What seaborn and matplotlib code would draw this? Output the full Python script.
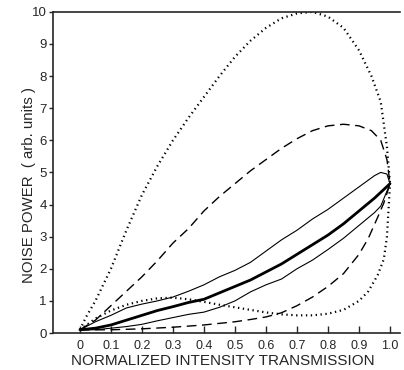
import numpy as np
import pandas as pd
import seaborn as sns
import matplotlib.pyplot as plt

# data
x_dot_up = [0, 0.02, 0.05, 0.1, 0.15, 0.2, 0.25, 0.3, 0.35, 0.4, 0.45, 0.5, 0.55, 0.6,
            0.65, 0.7, 0.75, 0.8, 0.85, 0.9, 0.94, 0.97, 0.99, 1.0]
y_dot_up = [0.1, 0.5, 1.0, 2.0, 3.2, 4.3, 5.2, 6.0, 6.7, 7.35, 8.0, 8.6, 9.1, 9.5,
            9.8, 9.95, 10.0, 9.85, 9.5, 8.8, 8.0, 7.2, 5.8, 4.65]

x_dot_lo = [0, 0.05, 0.1, 0.15, 0.2, 0.25, 0.3, 0.35, 0.4, 0.45, 0.5, 0.55, 0.6, 0.65,
            0.7, 0.75, 0.8, 0.85, 0.9, 0.93, 0.96, 0.98, 0.99, 1.0]
y_dot_lo = [0.1, 0.45, 0.7, 0.88, 1.0, 1.08, 1.1, 1.05, 0.97, 0.88, 0.8, 0.72, 0.64, 0.58,
            0.55, 0.55, 0.6, 0.72, 1.0, 1.3, 1.8, 2.3, 3.0, 4.65]

x_dash_up = [0, 0.05, 0.1, 0.15, 0.2, 0.25, 0.3, 0.35, 0.4, 0.45, 0.5, 0.55, 0.6, 0.65,
             0.7, 0.75, 0.8, 0.85, 0.9, 0.94, 0.97, 0.99, 1.0]
y_dash_up = [0.1, 0.4, 0.85, 1.3, 1.75, 2.25, 2.8, 3.25, 3.8, 4.25, 4.65, 5.05, 5.4, 5.75,
             6.05, 6.3, 6.45, 6.5, 6.45, 6.3, 6.0, 5.4, 4.65]

x_dash_lo = [0, 0.1, 0.2, 0.3, 0.4, 0.45, 0.5, 0.55, 0.6, 0.65, 0.7, 0.75, 0.8, 0.85,
             0.9, 0.93, 0.96, 0.98, 1.0]
y_dash_lo = [0.1, 0.1, 0.13, 0.18, 0.25, 0.3, 0.35, 0.42, 0.5, 0.63, 0.85, 1.12, 1.45, 1.85,
             2.45, 2.95, 3.6, 4.05, 4.65]

x_thin_up = [0, 0.05, 0.1, 0.15, 0.2, 0.25, 0.3, 0.35, 0.4, 0.45, 0.5, 0.55, 0.6, 0.65,
             0.7, 0.75, 0.8, 0.85, 0.9, 0.95, 0.97, 0.99, 1.0]
y_thin_up = [0.1, 0.35, 0.55, 0.78, 0.9, 1.0, 1.12, 1.3, 1.5, 1.75, 1.95, 2.2, 2.55, 2.9,
             3.2, 3.55, 3.85, 4.2, 4.55, 4.9, 5.0, 4.95, 4.65]

x_thick = [0, 0.05, 0.1, 0.15, 0.2, 0.25, 0.3, 0.35, 0.4, 0.45, 0.5, 0.55, 0.6, 0.65,
           0.7, 0.75, 0.8, 0.85, 0.9, 0.95, 1.0]
y_thick = [0.1, 0.15, 0.25, 0.4, 0.55, 0.7, 0.82, 0.95, 1.05, 1.25, 1.45, 1.65, 1.9, 2.15,
           2.45, 2.75, 3.05, 3.4, 3.8, 4.2, 4.65]

x_thin_lo = [0, 0.05, 0.1, 0.15, 0.2, 0.25, 0.3, 0.35, 0.4, 0.45, 0.5, 0.55, 0.6, 0.65,
             0.7, 0.75, 0.8, 0.85, 0.9, 0.95, 0.97, 1.0]
y_thin_lo = [0.1, 0.1, 0.15, 0.2, 0.27, 0.38, 0.48, 0.58, 0.65, 0.8, 1.0, 1.28, 1.5, 1.68,
             2.0, 2.27, 2.6, 2.95, 3.35, 3.75, 3.95, 4.65]

x_ticks = [0, 0.1, 0.2, 0.3, 0.4, 0.5, 0.6, 0.7, 0.8, 0.9, 1.0]
x_ticklabels = ['0', '0.1', '0.2', '0.3', '0.4', '0.5', '0.6', '0.7', '0.8', '0.9', '1.0']
y_ticks = list(range(0, 11))

sns.set_style("ticks")
plt.rcParams['font.family'] = ['Liberation Sans', 'DejaVu Sans']

fig = plt.figure(figsize=(4.04, 3.70), dpi=100)
ax = fig.add_axes([0.131, 0.10, 0.859, 0.868])

# curves
sns.lineplot(x=x_dot_up, y=y_dot_up, ax=ax, color='black', lw=1.6, ls=(0, (0.6, 1.6)), sort=False)
sns.lineplot(x=x_dot_lo, y=y_dot_lo, ax=ax, color='black', lw=1.6, ls=(0, (0.6, 1.6)), sort=False)
sns.lineplot(x=x_dash_up, y=y_dash_up, ax=ax, color='black', lw=1.0, ls=(0, (7, 4)), sort=False)
sns.lineplot(x=x_dash_lo, y=y_dash_lo, ax=ax, color='black', lw=1.0, ls=(0, (7, 4)), sort=False)
sns.lineplot(x=x_thin_up, y=y_thin_up, ax=ax, color='black', lw=0.8, sort=False)
sns.lineplot(x=x_thick, y=y_thick, ax=ax, color='black', lw=2.0, sort=False)
sns.lineplot(x=x_thin_lo, y=y_thin_lo, ax=ax, color='black', lw=0.8, sort=False)

ax.set_xlim(-0.087, 1.032)
ax.set_ylim(0, 10)
ax.set_xticks(x_ticks)
ax.set_xticklabels(x_ticklabels)
ax.set_yticks(y_ticks)
ax.tick_params(axis='x', direction='in', length=5, width=1, labelsize=9, pad=5)
ax.tick_params(axis='y', direction='out', length=3, width=1, labelsize=9.5, pad=1.5)

ax.spines['right'].set_visible(False)
for s in ['top', 'bottom', 'left']:
    ax.spines[s].set_linewidth(1.2)

ax.set_xlabel('NORMALIZED INTENSITY TRANSMISSION', fontsize=11)
ax.set_ylabel('NOISE POWER  ( arb. units )', fontsize=10.8)
ax.xaxis.set_label_coords(0.49, -0.064)
ax.yaxis.set_label_coords(-0.05, 0.46)

fig.savefig('out.png', dpi=100)
